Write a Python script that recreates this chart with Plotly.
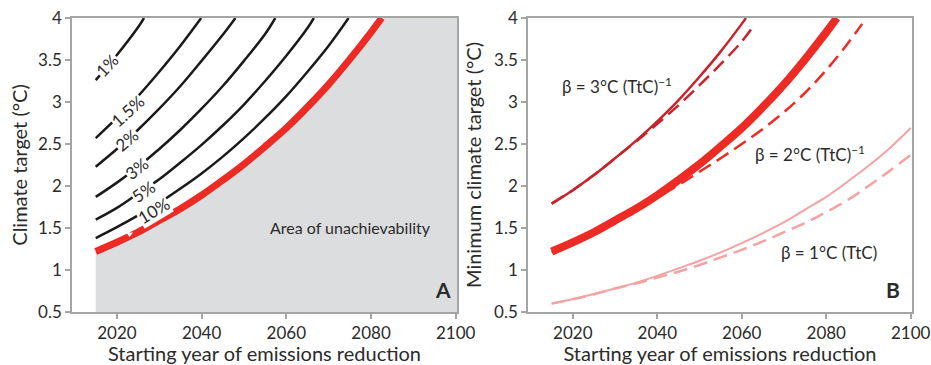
import plotly.graph_objects as go

# ---------------- data ----------------
years5 = [2015, 2020, 2025, 2030, 2035, 2040, 2045, 2050, 2055, 2060,
          2065, 2070, 2075, 2080, 2085, 2090, 2095, 2100]

# Panel A: red boundary (minimum achievable target)
red_x = [2015, 2020, 2025, 2030, 2035, 2040, 2045, 2050, 2055, 2060, 2065, 2070, 2075, 2080, 2082.5]
red_y = [1.22, 1.33, 1.45, 1.59, 1.73, 1.89, 2.07, 2.26, 2.47, 2.69, 2.94, 3.21, 3.51, 3.83, 4.0]

# Panel A: contours of reduction rate
c10_x = [2015, 2020, 2025, 2030, 2035, 2040, 2045, 2050, 2055, 2060, 2065, 2070, 2074.7]
c10_y = [1.38, 1.51, 1.65, 1.80, 1.97, 2.15, 2.35, 2.57, 2.81, 3.07, 3.36, 3.67, 4.0]
c5_x = [2015, 2020, 2025, 2030, 2035, 2040, 2045, 2050, 2055, 2060, 2065, 2066.5]
c5_y = [1.60, 1.74, 1.91, 2.08, 2.28, 2.49, 2.72, 2.97, 3.25, 3.55, 3.88, 4.0]
c3_x = [2015, 2020, 2025, 2030, 2035, 2040, 2045, 2050, 2055, 2057.4]
c3_y = [1.87, 2.04, 2.23, 2.44, 2.67, 2.92, 3.19, 3.49, 3.81, 4.0]
c2_x = [2015, 2020, 2025, 2030, 2035, 2040, 2045, 2048]
c2_y = [2.23, 2.44, 2.67, 2.92, 3.19, 3.49, 3.80, 4.0]
c15_x = [2015, 2020, 2025, 2030, 2035, 2039.9]
c15_y = [2.57, 2.81, 3.07, 3.36, 3.67, 4.0]
c1_x = [2015, 2020, 2025, 2026.4]
c1_y = [3.26, 3.56, 3.89, 4.0]

contour_labels = ["1%", "1.5%", "2%", "3%", "5%", "10%"]
label_x = [2017.6, 2022.4, 2022.5, 2024.7, 2026.3, 2028.7]
label_y = [3.44, 2.89, 2.55, 2.21, 1.93, 1.71]
label_angle = [-47, -42, -40, -38, -35, -31]

marker_x = [2023.0]
marker_y = [1.43]

# Panel B
b3_sol_x = [2015, 2020, 2025, 2030, 2035, 2040, 2045, 2050, 2055, 2060, 2061]
b3_sol_y = [1.79, 1.95, 2.13, 2.33, 2.54, 2.77, 3.02, 3.30, 3.60, 3.93, 4.0]
b3_dsh_x = [2015, 2020, 2025, 2030, 2035, 2040, 2045, 2050, 2055, 2060, 2062.7]
b3_dsh_y = [1.79, 1.95, 2.13, 2.33, 2.53, 2.74, 2.96, 3.20, 3.45, 3.72, 3.90]

b2_sol_x = red_x
b2_sol_y = red_y
b2_dsh_x = [2015, 2020, 2025, 2030, 2035, 2040, 2045, 2050, 2055, 2060, 2065, 2070, 2075, 2080, 2085, 2088.5]
b2_dsh_y = [1.21, 1.32, 1.44, 1.57, 1.71, 1.86, 2.01, 2.17, 2.33, 2.50, 2.68, 2.88, 3.11, 3.38, 3.69, 3.93]

b1_sol_y = [0.60, 0.655, 0.715, 0.78, 0.85, 0.93, 1.02, 1.11, 1.21, 1.32, 1.44, 1.57, 1.72, 1.87, 2.05, 2.24, 2.45, 2.69]
b1_dsh_y = [0.60, 0.65, 0.71, 0.78, 0.84, 0.91, 0.98, 1.06, 1.15, 1.24, 1.34, 1.45, 1.56, 1.69, 1.83, 2.00, 2.18, 2.37]

x_range = [2009.4, 2100.3]
y_range = [0.5, 4.0]

# ---------------- styles ----------------
RED = "#EE2A24"
DARKRED = "#C8232B"
PINK = "#F4A3A3"
GREY_FILL = "#DCDDDF"
AXIS = "#A3A6A3"
TXT = "#2B2B2B"
FONT = "Lato"

fig = go.Figure()

# grey area of unachievability
fig.add_trace(go.Scatter(
    x=red_x + [x_range[1], x_range[1], red_x[0]],
    y=red_y + [y_range[1], y_range[0], y_range[0]],
    fill="toself", fillcolor=GREY_FILL, line=dict(width=0), mode="lines",
    hoverinfo="skip", xaxis="x", yaxis="y"))

for cx, cy in [(c1_x, c1_y), (c15_x, c15_y), (c2_x, c2_y), (c3_x, c3_y), (c5_x, c5_y), (c10_x, c10_y)]:
    fig.add_trace(go.Scatter(x=cx, y=cy, mode="lines", line=dict(color="#1A1A1A", width=2.5, shape="spline"),
                             xaxis="x", yaxis="y"))

fig.add_trace(go.Scatter(x=red_x, y=red_y, mode="lines", line=dict(color=RED, width=7, shape="spline"),
                         xaxis="x", yaxis="y"))
fig.add_trace(go.Scatter(x=marker_x, y=marker_y, mode="markers",
                         marker=dict(symbol="triangle-down", size=6, color="white"),
                         xaxis="x", yaxis="y"))

# Panel B lines
fig.add_trace(go.Scatter(x=years5, y=b1_dsh_y, mode="lines",
                         line=dict(color=PINK, width=2.5, dash="14px,7px", shape="spline"), xaxis="x2", yaxis="y2"))
fig.add_trace(go.Scatter(x=years5, y=b1_sol_y, mode="lines",
                         line=dict(color=PINK, width=2, shape="spline"), xaxis="x2", yaxis="y2"))
fig.add_trace(go.Scatter(x=b2_dsh_x, y=b2_dsh_y, mode="lines",
                         line=dict(color=RED, width=2.5, dash="14px,7px", shape="spline"), xaxis="x2", yaxis="y2"))
fig.add_trace(go.Scatter(x=b2_sol_x, y=b2_sol_y, mode="lines",
                         line=dict(color=RED, width=8, shape="spline"), xaxis="x2", yaxis="y2"))
fig.add_trace(go.Scatter(x=b3_dsh_x, y=b3_dsh_y, mode="lines",
                         line=dict(color=DARKRED, width=2.5, dash="14px,7px", shape="spline"), xaxis="x2", yaxis="y2"))
fig.add_trace(go.Scatter(x=b3_sol_x, y=b3_sol_y, mode="lines",
                         line=dict(color=DARKRED, width=2.5, shape="spline"), xaxis="x2", yaxis="y2"))

annotations = []
for t, lx, ly, ang in zip(contour_labels, label_x, label_y, label_angle):
    annotations.append(dict(x=lx, y=ly, xref="x", yref="y", text=t, showarrow=False,
                            textangle=ang, bgcolor="white", borderpad=0,
                            font=dict(family=FONT, size=17, color=TXT)))

annotations += [
    dict(x=2075.2, y=1.51, xref="x", yref="y", text="Area of unachievability", showarrow=False,
         font=dict(family=FONT, size=16, color=TXT)),
    dict(x=2099.3, y=0.6, xref="x", yref="y", text="<b>A</b>", showarrow=False,
         xanchor="right", yanchor="bottom", font=dict(family=FONT, size=21, color=TXT)),
    dict(x=2098.0, y=0.6, xref="x2", yref="y2", text="<b>B</b>", showarrow=False,
         xanchor="right", yanchor="bottom", font=dict(family=FONT, size=21, color=TXT)),
    dict(x=2016.9, y=3.2, xref="x2", yref="y2", text="β = 3°C (TtC)<sup>−1</sup>", showarrow=False,
         xanchor="left", font=dict(family=FONT, size=17, color=TXT)),
    dict(x=2062.7, y=2.39, xref="x2", yref="y2", text="β = 2°C (TtC)<sup>−1</sup>", showarrow=False,
         xanchor="left", font=dict(family=FONT, size=17, color=TXT)),
    dict(x=2068.9, y=1.21, xref="x2", yref="y2", text="β = 1°C (TtC)", showarrow=False,
         xanchor="left", font=dict(family=FONT, size=17, color=TXT)),
]

axis_common = dict(showline=True, linecolor=AXIS, linewidth=1.5, mirror=True, ticks="outside",
                   ticklen=5, tickcolor=AXIS, tickwidth=1.5, showgrid=False, zeroline=False,
                   automargin=False, tickfont=dict(family=FONT, size=17, color=TXT))

xa = dict(axis_common, range=x_range, tickvals=[2020, 2040, 2060, 2080, 2100],
          title=dict(text="Starting year of emissions reduction", font=dict(family=FONT, size=20, color=TXT), standoff=7))
ya = dict(axis_common, range=y_range, tickvals=[0.5, 1, 1.5, 2, 2.5, 3, 3.5, 4],
          ticktext=["0.5", "1", "1.5", "2", "2.5", "3", "3.5", "4"])

fig.update_layout(
    width=931, height=365, margin=dict(l=0, r=0, t=0, b=0),
    paper_bgcolor="white", plot_bgcolor="white", showlegend=False,
    xaxis=dict(xa, domain=[72/931, 457/931], anchor="y"),
    yaxis=dict(ya, domain=[1-312/365, 1-18/365], anchor="x",
               title=dict(text="Climate target (°C)", font=dict(family=FONT, size=20, color=TXT), standoff=5)),
    xaxis2=dict(xa, domain=[528/931, 912/931], anchor="y2"),
    yaxis2=dict(ya, domain=[1-312/365, 1-18/365], anchor="x2",
                title=dict(text="Minimum climate target (°C)", font=dict(family=FONT, size=20, color=TXT), standoff=7)),
    annotations=annotations,
)

fig.write_html("out.html", config={"displayModeBar": False},
               post_script="document.body.style.margin='0';document.body.style.overflow='hidden';")
